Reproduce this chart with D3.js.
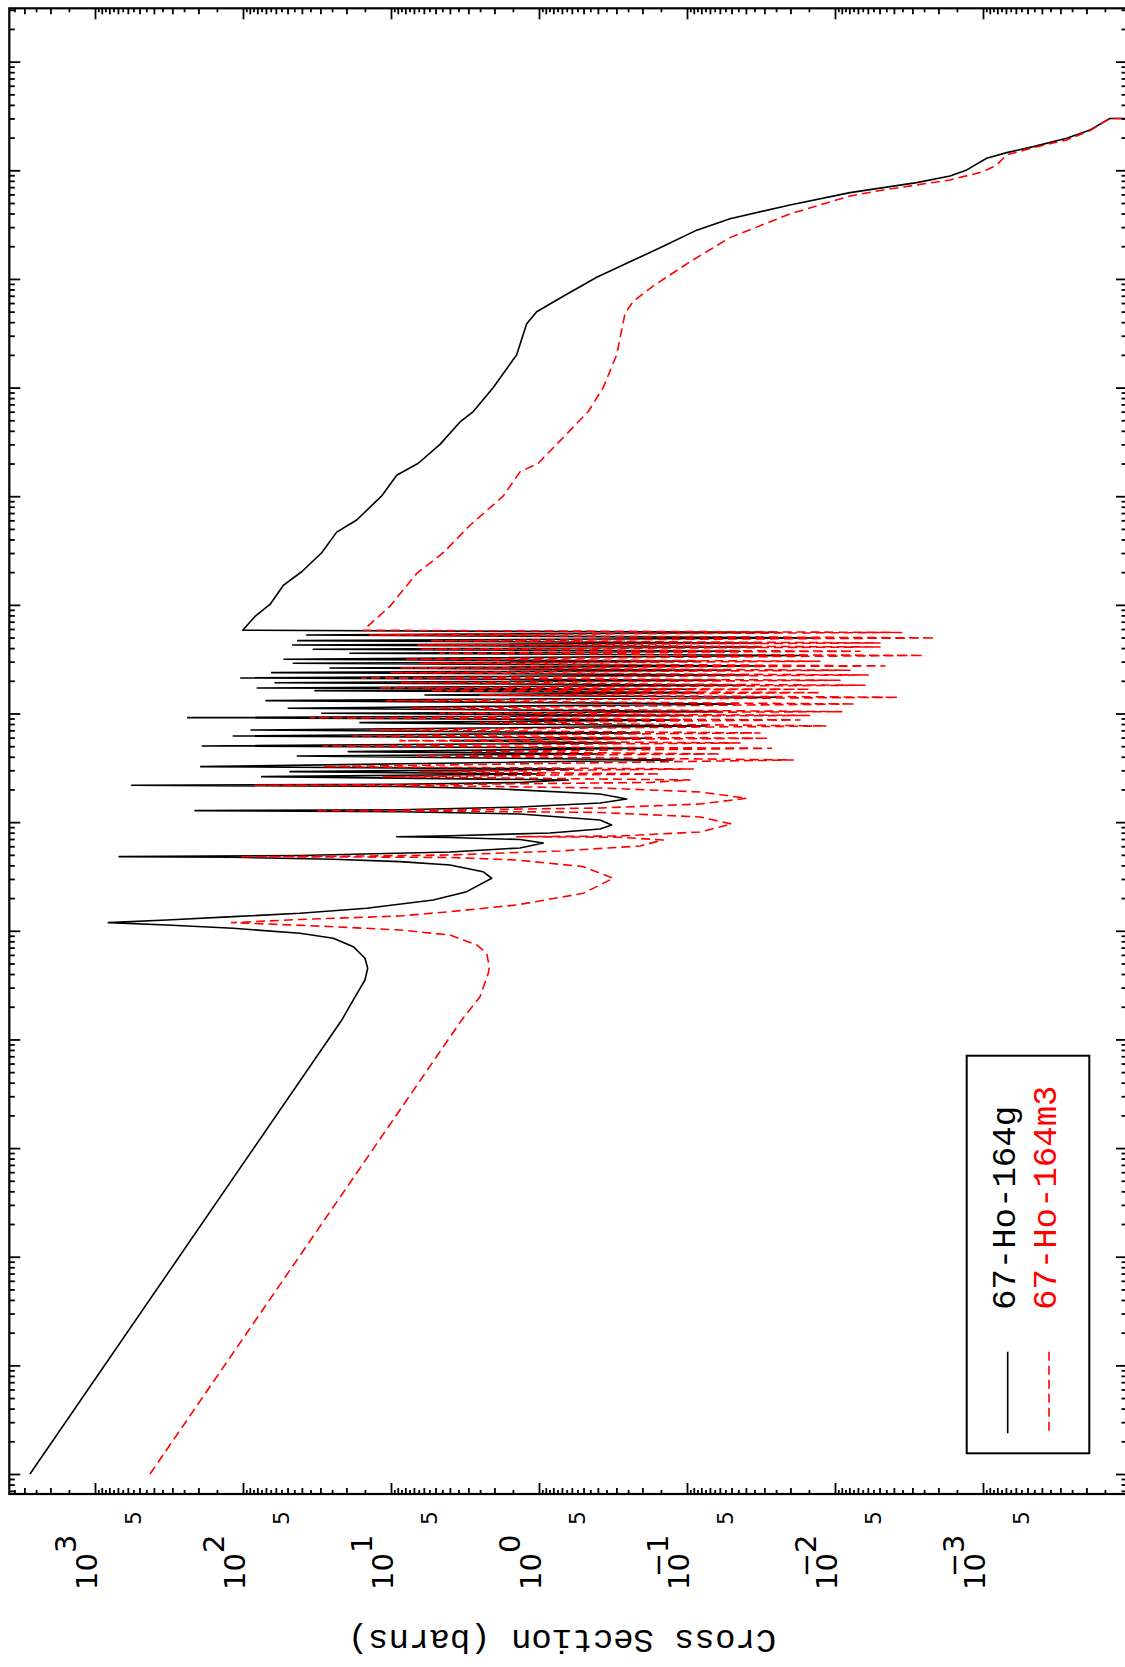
<!DOCTYPE html>
<html><head><meta charset="utf-8">
<script src="https://cdn.jsdelivr.net/npm/d3@7"></script>
<style>body{margin:0;background:#fff}</style>
</head><body>
<svg id="c" width="1125" height="1667"></svg>
<script>
// ---------------- DATA (energy in eV, cross section in barns) ----------------
const seriesNames = ["67-Ho-164g", "67-Ho-164m3"];

// low-energy part (1/v + first broad resonances) : [E, sigma]
const groundLow = [[1e-5,2750],[0.151,21.5],[0.2308,17.97],[0.3526,14.99],[0.4519,14.37],[0.5585,14.99],[0.7143,17.97],[0.8532,24.54],[0.9486,41.19],[1.055,116.3],[1.131,327.7],[1.188,813],[1.258,327.7],[1.349,116.8],[1.450,41.19],[1.612,14.6],[1.922,5.18],[2.292,3.08],[3.045,2.087],[3.501,2.39],[4.035,3.99],[4.328,8.70],[4.553,24.66],[4.750,116.8],[4.811,688],[4.935,41.19],[5.315,3.99],[5.785,1.344],[6.433,0.935],[6.928,1.344],[7.228,3.99],[7.35,9.15],[7.49,3.99],[7.95,0.843],[8.65,0.387],[9.42,0.3228],[10.47,0.387],[11.89,1.344],[12.46,8.70],[12.76,211],[13.0,8.70],[13.8,1.344],[15.02,0.387],[16.35,0.2555],[18.17,0.387],[20.2,1.834],[21.3,8.70],[21.85,565],[22.32,8.70],[23.19,1.344],[24.45,0.6337]];
const isoLow = [[1e-5,425],[0.151,3.329],[0.2474,2.503],[0.4064,2.2],[0.4674,2.167],[0.6209,2.256],[0.7404,2.636],[0.9152,3.99],[1.017,8.70],[1.091,24.54],[1.156,69.17],[1.188,119.2],[1.271,41.19],[1.369,8.70],[1.500,3.99],[1.729,1.415],[2.214,0.5019],[3.045,0.3148],[3.893,0.5019],[4.486,1.415],[4.73,3.99],[4.78,18.92],[4.811,104.8],[4.862,18.92],[4.988,3.99],[5.429,0.7215],[6.035,0.2078],[6.855,0.1446],[7.258,0.2836],[7.35,1.415],[7.461,0.2836],[8.122,0.0817],[9.623,0.04986],[11.16,0.0817],[12.28,0.387],[12.62,3.99],[12.76,32.62],[12.95,3.99],[13.5,0.387],[14.7,0.0817],[16.59,0.0395],[18.96,0.0817],[20.64,0.387],[21.53,3.99],[21.85,85.2],[22.23,3.99],[23.19,0.1778],[24.45,0.0954]];

// resolved resonance region: peak energies and the minima that follow them
const resE = [26.22,29.15,32.41,40.66,44.54,50.25,56.23,62.13,70.56,82.36,91.55,100.5,111.8,131.3,148.2,162.3,171.9,192.2,212.4,237.7,262.6,290.1,315.7,358.5,390.3,427.5,468.3,528.4];
const valE = [27.77,30.86,37.36,42.42,47.87,53.56,59.17,66.21,76.8,87.21,95.94,104.0,122.4,141.1,155.6,167.2,182.0,202.3,226.3,250.1,274.0,302.6,342.2,374.1,409.8,446.1,496.0,557.2];
const groundPeak = [74.74,48.13,193.1,42.97,19.43,188.4,3.99,116.3,88.3,16.2,236.4,29.39,49.42,69.9,5.893,32.62,80.08,60.79,103.6,63.99,25.84,45.72,52.84,18.92,33.5,46.15,42.7,37.12];
const groundValley = [0.9845,0.5864,0.1249,0.387,0.1778,0.2836,0.1778,0.2078,0.0736,0.1115,0.0954,0.0583,0.0474,0.02477,0.0817,0.0954,0.0406,0.0598,0.0387,0.0512,0.0297,0.0817,0.01724,0.0438,0.0321,0.0321,0.01365,0.02353];
const isoPeak = [11.32,6.368,28.67,6.57,2.926,28.67,8.70,17.97,13.5,2.503,35.26,4.666,7.439,10.69,2.503,5.451,12.18,8.70,15.78,10.16,8.70,6.368,8.04,4.666,6.368,6.57,5.451,13.87];
const isoValley = [0.1522,0.0907,0.01913,0.0598,0.02677,0.0438,0.02821,0.0321,0.01138,0.01724,0.01476,0.009009,0.007322,0.003736,0.01263,0.01476,0.006269,0.009252,0.005957,0.007916,0.004595,0.01263,0.002532,0.006779,0.004965,0.004965,0.00211,0.003541];

// unresolved / fast region : [E, sigma]
const groundHigh = [[584,100.5],[782,82.97],[1009,65.70],[1509,53.42],[2017,40.12],[3018,29.39],[4670,23.28],[6036,17.05],[1.006e4,11.56],[1.56e4,9.152],[2.012e4,6.539],[3.002e4,4.666],[4.828e4,3.418],[6.018e4,2.779],[1.003e5,2.036],[2.005e5,1.415],[3.869e5,1.211],[4.989e5,1.036],[6.929e5,0.6854],[1.036e6,0.4074],[1.44e6,0.2428],[1.995e6,0.1446],[2.813e6,0.086],[3.583e6,0.0512],[4.798e6,0.02014],[6.229e6,0.007916],[6.925e6,0.004717],[7.697e6,0.002805],[8.873e6,0.001671],[1.008e7,0.001288],[1.291e7,0.000944],[1.454e7,0.000692],[1.651e7,0.000457],[1.973e7,0.000272],[2.352e7,0.000189],[3.0e7,0.000139],[3.0e7,1e-5]];
const isoHigh = [[584,15.39],[972.9,10.16],[1946,6.703],[3018,4.432],[5405,2.926],[1.006e4,1.742],[1.676e4,1.344],[2.012e4,1.011],[3.233e4,0.7215],[6.018e4,0.4644],[1.003e5,0.3677],[2.005e5,0.2985],[4.813e5,0.2623],[6.22e5,0.2306],[8.62e5,0.1689],[1.44e6,0.0954],[2.4e6,0.0512],[3.966e6,0.02014],[5.808e6,0.007916],[6.595e6,0.004717],[7.33e6,0.002805],[8.152e6,0.001671],[9.721e6,0.000995],[1.12e7,0.000808],[1.385e7,0.000692],[1.617e7,0.000457],[1.903e7,0.000272],[2.318e7,0.000189],[3.0e7,0.000139],[3.0e7,1e-5]];

// axis ticks
const energyMajor = [1e-5,1e-4,1e-3,1e-2,1e-1,1,10,100,1e3,1e4,1e5,1e6,1e7,1e8];
const sigmaExps = [3,2,1,0,-1,-2,-3];
const sigmaExpLabels = ["3","2","1","0","\u22121","\u22122","\u22123"];
const fiveExps = [2,1,0,-1,-2,-3,-4];
const axisTitle = "Cross Section (barns)";

// ---------------- LAYOUT ----------------
const W = 1125, H = 1667;
const PL = 9.3, PR = 1127, PT = 8.3, PB = 1494;
const y = d3.scaleLog().domain([Math.pow(10,-5.184), Math.pow(10,8.491)]).range([PB, PT]);
const x = d3.scaleLog().domain([Math.pow(10,3.579), Math.pow(10,-3.973)]).range([PL, PR]);

function build(low, peaks, valleys, high) {
  const pts = low.slice();
  resE.forEach((e, i) => { pts.push([e, peaks[i]]); pts.push([valE[i], valleys[i]]); });
  return pts.concat(high);
}
const groundSeries = build(groundLow, groundPeak, groundValley, groundHigh);
const isoSeries = build(isoLow, isoPeak, isoValley, isoHigh);

const svg = d3.select("#c");
svg.append("rect").attr("width", W).attr("height", H).attr("fill", "#fff");
svg.append("defs").append("clipPath").attr("id", "clip").append("rect")
  .attr("x", PL).attr("y", PT).attr("width", PR - PL).attr("height", PB - PT);

const line = d3.line().x(d => x(d[1])).y(d => y(d[0]));
const gData = svg.append("g").attr("clip-path", "url(#clip)");
gData.append("path").datum(groundSeries).attr("d", line)
  .attr("fill", "none").attr("stroke", "#000").attr("stroke-width", 1.6).attr("stroke-linejoin", "round");
gData.append("path").datum(isoSeries).attr("d", line)
  .attr("fill", "none").attr("stroke", "#ff0000").attr("stroke-width", 1.6)
  .attr("stroke-dasharray", "9,5").attr("stroke-linejoin", "round");

// ticks
const eDom = y.domain(), sDom = x.domain();
const energyMinor = [];
for (let k = -6; k <= 8; k++) for (let m = 2; m <= 9; m++) {
  const v = +(m + "e" + k); if (v > eDom[0] && v < eDom[1]) energyMinor.push(v);
}
const sigmaMajor = sigmaExps.map(k => +("1e" + k));
const sigmaMinorInt = [], sigmaMinorHalf = [];
for (let k = -5; k <= 3; k++) for (let m = 1.5; m < 10; m += 0.5) {
  const v = +(m + "e" + k); if (v < sDom[0] && v > sDom[1]) (Number.isInteger(m) ? sigmaMinorInt : sigmaMinorHalf).push(v);
}
function ticks(axisFn, scale, values, size, tr) {
  const g = svg.append("g").attr("transform", tr)
    .call(axisFn(scale).tickValues(values).tickSize(size).tickSizeOuter(0).tickFormat(""));
  g.select(".domain").remove();
  g.selectAll(".tick line").attr("stroke", "#000").attr("stroke-width", 1.8);
}
ticks(d3.axisRight, y, energyMajor, 11, `translate(${PL},0)`);
ticks(d3.axisRight, y, energyMinor, 5.5, `translate(${PL},0)`);
ticks(d3.axisLeft, y, energyMajor, 11, `translate(${PR},0)`);
ticks(d3.axisLeft, y, energyMinor, 5.5, `translate(${PR},0)`);
ticks(d3.axisTop, x, sigmaMajor, 11, `translate(0,${PB})`);
ticks(d3.axisTop, x, sigmaMinorInt, 6, `translate(0,${PB})`);
ticks(d3.axisTop, x, sigmaMinorHalf, 4, `translate(0,${PB})`);
ticks(d3.axisBottom, x, sigmaMajor, 11, `translate(0,${PT})`);
ticks(d3.axisBottom, x, sigmaMinorInt, 6, `translate(0,${PT})`);
ticks(d3.axisBottom, x, sigmaMinorHalf, 4, `translate(0,${PT})`);

svg.append("rect").attr("x", PL).attr("y", PT).attr("width", PR - PL).attr("height", PB - PT)
  .attr("fill", "none").attr("stroke", "#000").attr("stroke-width", 2.2);

// tick labels (rotated like the reference)
const lab = svg.append("g").attr("font-family", "DejaVu Sans, sans-serif").attr("fill", "#000");
sigmaExps.forEach((k, i) => {
  const g = lab.append("g").attr("transform", `translate(${x(+("1e" + k)) + 2},1553) rotate(-90)`);
  g.append("text").attr("x", 0).attr("y", 0).attr("text-anchor", "end").attr("font-size", 29).text("10");
  g.append("text").attr("x", 18.4).attr("y", -21).attr("text-anchor", "end").attr("font-size", 29).text(sigmaExpLabels[i]);
});
fiveExps.forEach(k => {
  lab.append("text").attr("transform", `translate(${x(+("5e" + k)) + 1.5},1511) rotate(-90)`)
    .attr("text-anchor", "end").attr("font-size", 22).text("5");
});

// axis title (upside down)
svg.append("text").attr("transform", "translate(562,1630) rotate(180)")
  .attr("text-anchor", "middle").attr("font-family", "Liberation Mono, monospace")
  .attr("font-size", 34).attr("fill", "#000").text(axisTitle);

// legend
const lg = svg.append("g");
lg.append("rect").attr("x", 966.7).attr("y", 1055.7).attr("width", 122.6).attr("height", 397.6)
  .attr("fill", "#fff").attr("stroke", "#000").attr("stroke-width", 2);
lg.append("line").attr("x1", 1007.7).attr("x2", 1007.7).attr("y1", 1351.7).attr("y2", 1433.3)
  .attr("stroke", "#000").attr("stroke-width", 1.6);
lg.append("line").attr("x1", 1049).attr("x2", 1049).attr("y1", 1351.7).attr("y2", 1433.3)
  .attr("stroke", "#ff0000").attr("stroke-width", 1.6).attr("stroke-dasharray", "9,5");
lg.append("text").attr("transform", "translate(1015,1310) rotate(-90)")
  .attr("font-family", "Liberation Mono, monospace").attr("font-size", 34).attr("fill", "#000").text(seriesNames[0]);
lg.append("text").attr("transform", "translate(1056,1310) rotate(-90)")
  .attr("font-family", "Liberation Mono, monospace").attr("font-size", 34).attr("fill", "#ff0000").text(seriesNames[1]);
</script>
</body></html>
